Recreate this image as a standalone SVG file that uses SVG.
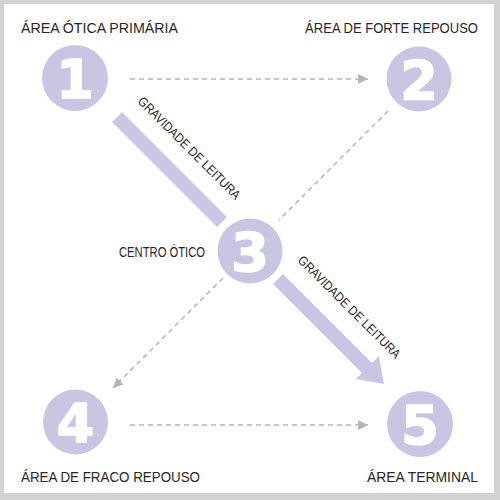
<svg xmlns="http://www.w3.org/2000/svg" width="500" height="500" viewBox="0 0 500 500">
  <style>
    .lbl { font-family: "Liberation Sans Narrow", "Liberation Sans", Arial, sans-serif; font-size: 15px; fill: #262626; }
    .small { font-family: "Liberation Sans Narrow", "Liberation Sans", Arial, sans-serif; font-size: 13px; fill: #262626; }
    .mid { font-family: "Liberation Sans Narrow", "Liberation Sans", Arial, sans-serif; font-size: 14px; fill: #262626; }
    .num { font-family: "DejaVu Sans", "Liberation Sans", sans-serif; font-weight: bold; font-size: 54px; fill: #ffffff; stroke: #ffffff; stroke-width: 1.6; text-anchor: middle; }
    .node circle { fill: #c9c6e4; }
    .dash { stroke: #b4b4b4; stroke-width: 1.5; stroke-dasharray: 5 4; fill: none; }
    .bar { stroke: #c9c6e4; stroke-width: 14; fill: none; }
  </style>
  <defs>
    <marker id="ah" viewBox="0 0 10 10" refX="10" refY="5" markerWidth="10" markerHeight="10" markerUnits="userSpaceOnUse" orient="auto">
      <path d="M0,0 L10,5 L0,10 Z" fill="#b4b4b4"/>
    </marker>
  </defs>
  <rect x="0" y="0" width="500" height="500" fill="#d2d2d2"/>
  <rect x="4" y="4" width="490" height="489" fill="#ffffff"/>

  <g id="connectors">
    <line class="dash" x1="130" y1="79" x2="368" y2="79" marker-end="url(#ah)"/>
    <line class="dash" x1="388" y1="111" x2="279" y2="220"/>
    <line class="dash" x1="223" y1="278" x2="113" y2="388" marker-end="url(#ah)"/>
    <line class="dash" x1="130" y1="425" x2="368" y2="425" marker-end="url(#ah)"/>
    <line class="bar" x1="117" y1="117" x2="222" y2="222"/>
    <line class="bar" x1="278" y1="279" x2="370" y2="371"/>
    <polygon points="384,384 356,379 379,356" fill="#c9c6e4"/>
    <text class="small" x="137" y="102" transform="rotate(45 137 102)" textLength="139" lengthAdjust="spacingAndGlyphs">GRAVIDADE DE LEITURA</text>
    <text class="small" x="297" y="261" transform="rotate(45 297 261)" textLength="139" lengthAdjust="spacingAndGlyphs">GRAVIDADE DE LEITURA</text>
  </g>

  <g id="node1" class="node">
    <circle cx="75" cy="78" r="33"/>
    <text class="num" x="75" y="98">1</text>
    <text class="lbl" x="21" y="33" textLength="157" lengthAdjust="spacingAndGlyphs">ÁREA ÓTICA PRIMÁRIA</text>
  </g>
  <g id="node2" class="node">
    <circle cx="419" cy="79" r="32.5"/>
    <text class="num" x="419" y="99">2</text>
    <text class="lbl" x="0" y="0" text-anchor="end" transform="translate(478 33) scale(0.87 1)">ÁREA DE FORTE REPOUSO</text>
  </g>
  <g id="node3" class="node">
    <circle cx="250" cy="251" r="32.5"/>
    <text class="num" x="250" y="271">3</text>
    <text class="mid" x="119" y="257" textLength="86" lengthAdjust="spacingAndGlyphs">CENTRO ÓTICO</text>
  </g>
  <g id="node4" class="node">
    <circle cx="75.5" cy="422" r="32.5"/>
    <text class="num" x="75.5" y="442">4</text>
    <text class="lbl" x="21" y="482" textLength="179" lengthAdjust="spacingAndGlyphs">ÁREA DE FRACO REPOUSO</text>
  </g>
  <g id="node5" class="node">
    <circle cx="420" cy="424" r="33"/>
    <text class="num" x="420" y="444">5</text>
    <text class="lbl" x="478" y="482" text-anchor="end" textLength="111" lengthAdjust="spacingAndGlyphs">ÁREA TERMINAL</text>
  </g>
</svg>
